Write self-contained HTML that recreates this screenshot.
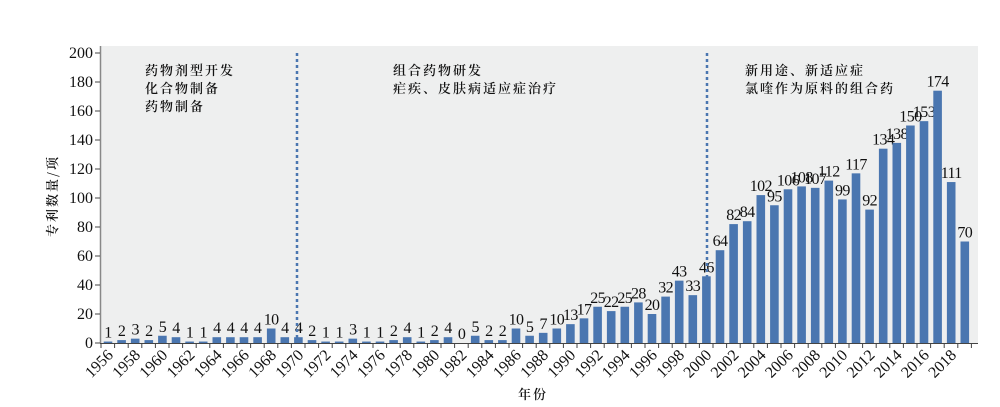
<!DOCTYPE html>
<html><head><meta charset="utf-8"><style>
html,body{margin:0;padding:0;background:#fff;}
svg{display:block;}
.t{font-family:"Liberation Serif","Noto Serif CJK SC",serif;fill:#111;}
.v{letter-spacing:-0.6px;}
.c{font-family:"Noto Serif CJK SC","WenQuanYi Zen Hei",serif;fill:#111;font-size:13px;letter-spacing:2px;font-weight:600;}
</style></head><body>
<svg width="1000" height="407" xmlns="http://www.w3.org/2000/svg" id="s">
<rect x="101" y="46" width="877" height="297" fill="#eeefef"/>
<g id="bars"></g>
<line x1="297" y1="53" x2="297" y2="343" stroke="#4a76b0" stroke-width="2.5" stroke-dasharray="3,3"/>
<line x1="707" y1="53" x2="707" y2="343" stroke="#4a76b0" stroke-width="2.5" stroke-dasharray="3,3"/>
<line x1="100.5" y1="46" x2="100.5" y2="343" stroke="#888" stroke-width="1.5"/>
<line x1="100" y1="343.5" x2="978" y2="343.5" stroke="#444" stroke-width="1"/>
<g id="ax"></g>
<text class="c" x="145" y="75">药物剂型开发</text>
<text class="c" x="145" y="93">化合物制备</text>
<text class="c" x="145" y="111">药物制备</text>
<text class="c" x="393" y="75">组合药物研发</text>
<text class="c" x="393" y="93">疟疾、皮肤病适应症治疗</text>
<text class="c" x="745" y="75">新用途、新适应症</text>
<text class="c" x="745" y="93">氯喹作为原料的组合药</text>
<text class="c" x="0" y="0" transform="translate(57,196) rotate(-90)" text-anchor="middle">专利数量/项</text>
<text class="c" x="533" y="399" text-anchor="middle">年份</text>
</svg>
<script>
var d=[1,2,3,2,5,4,1,1,4,4,4,4,10,4,4,2,1,1,3,1,1,2,4,1,2,4,0,5,2,2,10,5,7,10,13,17,25,22,25,28,20,32,43,33,46,64,82,84,102,95,106,108,107,112,99,117,92,134,138,150,153,174,111,70];
var NS="http://www.w3.org/2000/svg",b=document.getElementById("bars"),a=document.getElementById("ax");
function el(t,at,p,tx){var e=document.createElementNS(NS,t);for(var k in at)e.setAttribute(k,at[k]);if(tx!==undefined)e.textContent=tx;p.appendChild(e);return e;}
var y0=343,k=1.45;
d.forEach(function(v,i){var cx=108+13.6*i;var h=v*k;
el("rect",{x:cx-4.3,y:y0-h,width:8.6,height:h,fill:"#4a76b0"},b);
el("text",{x:cx,y:y0-h-4,"text-anchor":"middle","font-size":"16",class:"t v"},b,v);});
for(var i=0;i<=64;i++){var x=101+13.6*i;el("line",{x1:x,y1:343,x2:x,y2:348,stroke:"#444"},a);}
for(var y=1956,i=0;y<=2018;y+=2,i+=2){var cx=108+13.6*i+6;
el("text",{x:0,y:0,transform:"translate("+cx+",356) rotate(-45)","text-anchor":"end","font-size":"16",class:"t"},a,y);}
for(var v=0;v<=200;v+=20){var yy=y0-v*k;el("line",{x1:95,y1:yy,x2:100,y2:yy,stroke:"#444"},a);
el("text",{x:93,y:yy+5,"text-anchor":"end","font-size":"16",class:"t"},a,v);}
</script>
</body></html>
